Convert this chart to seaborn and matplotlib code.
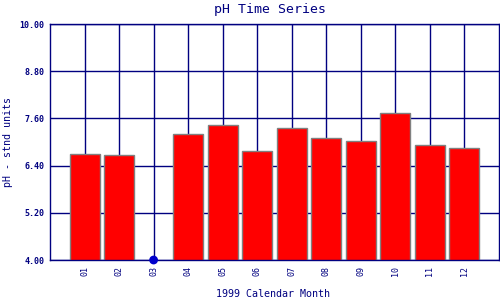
import numpy as np
import pandas as pd
import matplotlib
matplotlib.use("Agg")
import matplotlib.pyplot as plt
import seaborn as sns

months = ["01", "02", "03", "04", "05", "06", "07", "08", "09", "10", "11", "12"]
ph_values = [6.69, 6.66, np.nan, 7.20, 7.42, 6.78, 7.35, 7.10, 7.03, 7.75, 6.92, 6.84]
missing_months = ["03"]
y_ticks = [4.00, 5.20, 6.40, 7.60, 8.80, 10.00]

sns.set_style("white")
plt.rcParams["font.family"] = ["DejaVu Sans Mono"]

navy = "#000080"
df = pd.DataFrame({"month": months, "ph": ph_values})

fig = plt.figure(figsize=(5, 3), dpi=100)
ax = fig.add_axes([0.1, 0.1333, 0.898, 0.7867])

sns.barplot(data=df, x="month", y="ph", order=months, color="#ff0000",
            saturation=1, edgecolor="#808080", linewidth=1.0, width=0.87,
            ax=ax, zorder=2)

miss = pd.DataFrame({"month": missing_months, "ph": [y_ticks[0]] * len(missing_months)})
sns.scatterplot(data=miss, x="month", y="ph", color="#0000cc", s=40,
                edgecolor="none", ax=ax, zorder=5, clip_on=False)

ax.set_xlim(-1, len(months))
ax.set_ylim(y_ticks[0], y_ticks[-1])
ax.set_yticks(y_ticks)
ax.set_yticklabels([f"{v:.2f}" for v in y_ticks], fontsize=6, fontweight="bold", color=navy)
ax.set_xticks(range(len(months)))
ax.set_xticklabels(months, rotation=90, fontsize=6, color=navy)
ax.tick_params(axis="both", length=0, pad=4)

ax.set_axisbelow(True)
ax.grid(True, color=navy, linewidth=1.0)
for s in ax.spines.values():
    s.set_visible(True)
    s.set_color(navy)
    s.set_linewidth(1.0)

ax.set_xlabel("")
ax.set_ylabel("")
fig.text(0.54, 1 - 10 / 300, "pH Time Series", ha="center", va="center",
         fontsize=9.5, color=navy)
fig.text(0.546, 1 - 294 / 300, "1999 Calendar Month", ha="center", va="center",
         fontsize=7.2, color=navy)
fig.text(8 / 500, 1 - 142 / 300, "pH - stnd units", ha="center", va="center",
         rotation=90, fontsize=7.2, color=navy)

fig.savefig("out.png", dpi=100)
